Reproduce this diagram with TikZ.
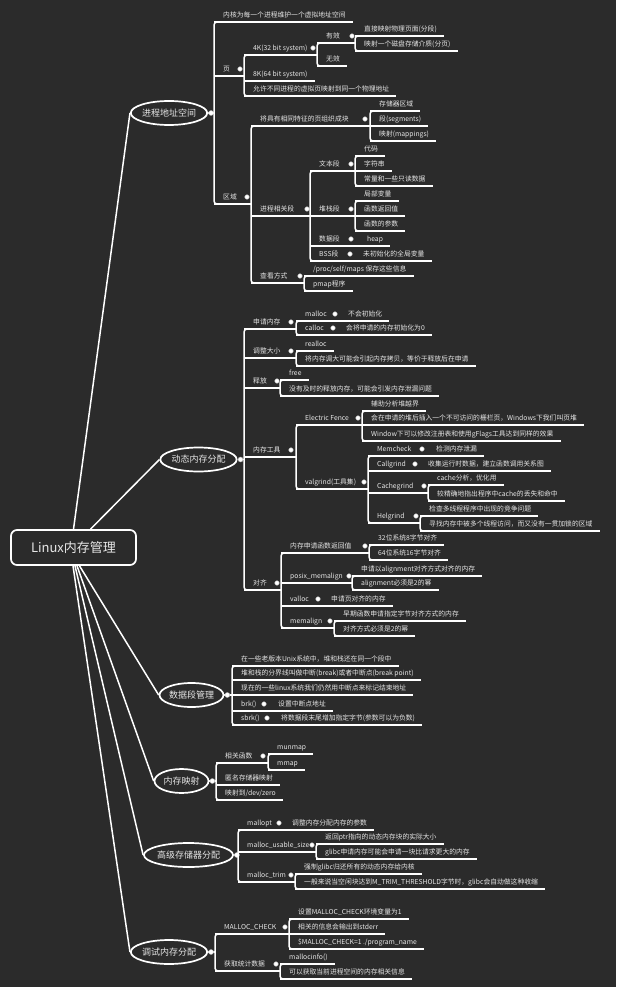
\documentclass[tikz,border=0pt]{standalone}
\usepackage{fontspec}
\setmainfont{Noto Sans CJK SC}
\usetikzlibrary{shapes.geometric}
\definecolor{bg}{HTML}{2B2B2B}
\definecolor{txt}{HTML}{E6E6E6}
\newcommand\mmfs{\fontsize{6.8}{8}\selectfont}
\tikzset{
  ul/.style={draw=white, line width=1.5pt},
  cl/.style={draw=white, line width=1.5pt},
  tx/.style={text=txt, font=\mmfs, inner xsep=0pt, inner ysep=0pt, text height=5.5pt, text depth=4.5pt, anchor=south west},
  dt/.style={circle, fill=white, draw=gray!60, line width=0.4pt, inner sep=0pt, minimum size=4.6pt},
  lone/.style={ellipse, draw=white, line width=1.7pt, text=txt, font=\fontsize{9}{10}\selectfont, inner sep=0pt, minimum height=24pt},
}
\newcommand\mmleaf[4]{\node[tx] (#1) at ({#2+9},#3) {#4};
  \draw[ul] (#2,#3) -- ([xshift=7pt]#1.south east);}
\newcommand\mmpar[6]{\node[tx] (#1) at ({#2+9},#3) {#4};
  \node[dt] (#1d) at (#5,{#3-7}) {};
  \draw[ul] (#2,#3) -- (#6,#3);}
\newcommand\mmin[7]{\node[tx] (#1) at ({#2+9},#3) {#4};
  \node[dt] (#1d) at (#5,{#3-7}) {};
  \node[tx] (#1c) at (#6,#3) {#7};
  \draw[ul] (#2,#3) -- ([xshift=7pt]#1c.south east);}
\newcommand\mmbr[3]{\draw[ul,rounded corners=3pt] ({#1+6},#2) -- (#1,#2) -- (#1,#3) -- ({#1+6},#3);}
\begin{document}
\begin{tikzpicture}[x=1pt,y=-1pt]
\fill[bg] (0,0) rectangle (616,987);
\useasboundingbox (0,0) rectangle (616,987);

% root
\node[draw=white, line width=1.7pt, rounded corners=6pt, minimum width=125pt, minimum height=35pt, font=\fontsize{13}{15}\selectfont, text=txt, inner sep=0pt] (root) at (73.5,547.5) {Linux内存管理};

% level 1
\node[lone, minimum width=72pt] (e1) at (169,113) {进程地址空间};
\node[lone, minimum width=73pt] (e2) at (198.5,459.5) {动态内存分配};
\node[lone, minimum width=64pt] (e3) at (191.5,695) {数据段管理};
\node[lone, minimum width=54pt] (e4) at (181.5,781) {内存映射};
\node[lone, minimum width=83pt] (e5) at (188.5,855) {高级存储器分配};
\node[lone, minimum width=72pt] (e6) at (169,952) {调试内存分配};

\draw[cl] (root.north) -- (e1.west);
\draw[cl] ([xshift=17pt]root.north) -- (e2.west);
\draw[cl] ([xshift=6pt]root.south) -- (e3.west);
\draw[cl] ([xshift=3.5pt]root.south) -- (e4.west);
\draw[cl] ([xshift=1.5pt]root.south) -- (e5.west);
\draw[cl] ([xshift=-0.5pt]root.south) -- (e6.west);

% ===== section 1
\coordinate (k1) at (214,113);
\draw[ul] (e1.east) -- (k1);
\node[dt, minimum size=5pt] (e1d) at ([xshift=3pt]e1.east) {};
\mmbr{214}{22}{204}
\mmleaf{a1}{214}{22}{内核为每一个进程维护一个虚拟地址空间}
\mmpar{a2}{214}{76}{页}{240}{244}
\mmbr{244}{55}{96}
\mmpar{a21}{244}{55}{4K(32 bit system)}{313}{317}
\mmbr{317}{43}{66}
\mmpar{a211}{317}{43}{有效}{352}{355}
\mmbr{355}{36}{51}
\mmleaf{a2111}{355}{36}{直接映射物理页面(分段)}
\mmleaf{a2112}{355}{51}{映射一个磁盘存储介质(分页)}
\mmleaf{a212}{317}{66}{无效}
\mmleaf{a22}{244}{81}{8K(64 bit system)}
\mmleaf{a23}{244}{96}{允许不同进程的虚拟页映射到同一个物理地址}
\mmpar{a3}{214}{204}{区域}{247}{251}
\mmbr{251}{126}{283}
\mmpar{a31}{251}{126}{将具有相同特征的页组织成块}{365}{370}
\mmbr{370}{111}{141}
\mmleaf{a311}{370}{111}{存储器区域}
\mmleaf{a312}{370}{126}{段(segments)}
\mmleaf{a313}{370}{141}{映射(mappings)}
\mmpar{a32}{251}{216}{进程相关段}{307}{310}
\mmbr{310}{171}{261}
\mmpar{a321}{310}{171}{文本段}{351}{355}
\mmbr{355}{156}{186}
\mmleaf{a3211}{355}{156}{代码}
\mmleaf{a3212}{355}{171}{字符串}
\mmleaf{a3213}{355}{186}{常量和一些只读数据}
\mmpar{a322}{310}{216}{堆栈段}{351}{355}
\mmbr{355}{201}{231}
\mmleaf{a3221}{355}{201}{局部变量}
\mmleaf{a3222}{355}{216}{函数返回值}
\mmleaf{a3223}{355}{231}{函数的参数}
\mmin{a323}{310}{246}{数据段}{351}{367}{heap}
\mmin{a324}{310}{261}{BSS段}{350}{363}{未初始化的全局变量}
\mmpar{a33}{251}{283}{查看方式}{300}{304}
\mmbr{304}{276}{291}
\mmleaf{a331}{304}{276}{/proc/self/maps 保存这些信息}
\mmleaf{a332}{304}{291}{pmap程序}

% ===== section 2
\coordinate (k2) at (244,459.5);
\draw[ul] (e2.east) -- (k2);
\node[dt, minimum size=5pt] (e2d) at ([xshift=3pt]e2.east) {};
\mmbr{244}{329}{590}
\mmpar{b1}{244}{329}{申请内存}{291}{296}
\mmbr{296}{321}{335}
\mmin{b11}{296}{321}{malloc}{335}{348}{不会初始化}
\mmin{b12}{296}{335}{calloc}{333}{346}{会将申请的内存初始化为0}
\mmpar{b2}{244}{358}{调整大小}{291}{296}
\mmbr{296}{351}{366}
\mmleaf{b21}{296}{351}{realloc}
\mmleaf{b22}{296}{366}{将内存调大可能会引起内存拷贝，等价于释放后在申请}
\mmpar{b3}{244}{388}{释放}{277}{280}
\mmbr{280}{380}{396}
\mmleaf{b31}{280}{380}{free}
\mmleaf{b32}{280}{396}{没有及时的释放内存，可能会引发内存泄漏问题}
\mmpar{b4}{244}{457}{内存工具}{291}{296}
\mmbr{296}{425}{489}
\mmpar{b41}{296}{425}{Electric Fence}{358}{362}
\mmbr{362}{411}{441}
\mmleaf{b411}{362}{411}{辅助分析堆越界}
\mmleaf{b412}{362}{425}{会在申请的堆后插入一个不可访问的栅栏页，Windows下我们叫页堆}
\mmleaf{b413}{362}{441}{Window下可以修改注册表和使用gFlags工具达到同样的效果}
\mmpar{b42}{296}{489}{valgrind(工具集)}{364}{368}
\mmbr{368}{456}{523}
\mmin{b421}{368}{456}{Memcheck}{422}{436}{检测内存泄漏}
\mmin{b422}{368}{471}{Callgrind}{415}{428}{收集运行时数据，建立函数调用关系图}
\mmpar{b423}{368}{493}{Cachegrind}{424}{428}
\mmbr{428}{485}{501}
\mmleaf{b4231}{428}{485}{cache分析，优化用}
\mmleaf{b4232}{428}{501}{较精确地指出程序中cache的丢失和命中}
\mmpar{b424}{368}{523}{Helgrind}{416}{420}
\mmbr{420}{516}{531}
\mmleaf{b4241}{420}{516}{检查多线程程序中出现的竞争问题}
\mmleaf{b4242}{420}{531}{寻找内存中被多个线程访问，而又没有一贯加锁的区域}
\mmpar{b5}{244}{590}{对齐}{277}{281}
\mmbr{281}{553}{628}
\mmpar{b51}{281}{553}{内存申请函数返回值}{365}{369}
\mmbr{369}{545}{560}
\mmleaf{b511}{369}{545}{32位系统8字节对齐}
\mmleaf{b512}{369}{560}{64位系统16字节对齐}
\mmpar{b52}{281}{583}{posix\_memalign}{349}{352}
\mmbr{352}{576}{590}
\mmleaf{b521}{352}{576}{申请以alignment对齐方式对齐的内存}
\mmleaf{b522}{352}{590}{alignment必须是2的幂}
\mmin{b53}{281}{606}{valloc}{318}{331}{申请页对齐的内存}
\mmpar{b54}{281}{628}{memalign}{330}{334}
\mmbr{334}{621}{636}
\mmleaf{b541}{334}{621}{早期函数申请指定字节对齐方式的内存}
\mmleaf{b542}{334}{636}{对齐方式必须是2的幂}

% ===== section 3
\coordinate (k3) at (232,695);
\draw[ul] (e3.east) -- (k3);
\node[dt, minimum size=5pt] (e3d) at ([xshift=3pt]e3.east) {};
\mmbr{232}{666}{725}
\mmleaf{c1}{232}{666}{在一些老版本Unix系统中，堆和栈还在同一个段中}
\mmleaf{c2}{232}{680}{堆和栈的分界线叫做中断(break)或者中断点(break point)}
\mmleaf{c3}{232}{695}{现在的一些linux系统我们仍然用中断点来标记结束地址}
\mmin{c4}{232}{711}{brk()}{264}{278}{设置中断点地址}
\mmin{c5}{232}{725}{sbrk()}{267}{281}{将数据段末尾增加指定字节(参数可以为负数)}

% ===== section 4
\coordinate (k4) at (216,781);
\draw[ul] (e4.east) -- (k4);
\node[dt, minimum size=5pt] (e4d) at ([xshift=3pt]e4.east) {};
\mmbr{216}{763}{800}
\mmpar{d1}{216}{763}{相关函数}{263}{268}
\mmbr{268}{754}{770}
\mmleaf{d11}{268}{754}{munmap}
\mmleaf{d12}{268}{770}{mmap}
\mmleaf{d2}{216}{785}{匿名存储器映射}
\mmleaf{d3}{216}{800}{映射到/dev/zero}

% ===== section 5
\coordinate (k5) at (238,855);
\draw[ul] (e5.east) -- (k5);
\node[dt, minimum size=5pt] (e5d) at ([xshift=3pt]e5.east) {};
\mmbr{238}{830}{882}
\mmin{g1}{238}{830}{mallopt}{279}{292}{调整内存分配内存的参数}
\mmpar{g2}{238}{852}{malloc\_usable\_size}{312}{316}
\mmbr{316}{844}{859}
\mmleaf{g21}{316}{844}{返回ptr指向的动态内存块的实际大小}
\mmleaf{g22}{316}{859}{glibc申请内存可能会申请一块比请求更大的内存}
\mmpar{g3}{238}{882}{malloc\_trim}{291}{295}
\mmbr{295}{874}{889}
\mmleaf{g31}{295}{874}{强制glibc归还所有的动态内存给内核}
\mmleaf{g32}{295}{889}{一般来说当空闲块达到M\_TRIM\_THRESHOLD字节时，glibc会自动做这种收缩}

% ===== section 6
\coordinate (k6) at (215,952);
\draw[ul] (e6.east) -- (k6);
\node[dt, minimum size=5pt] (e6d) at ([xshift=3pt]e6.east) {};
\mmbr{215}{934}{971}
\mmpar{f1}{215}{934}{MALLOC\_CHECK}{285}{289}
\mmbr{289}{919}{949}
\mmleaf{f11}{289}{919}{设置MALLOC\_CHECK环境变量为1}
\mmleaf{f12}{289}{934}{相关的信息会输出到stderr}
\mmleaf{f13}{289}{949}{\$MALLOC\_CHECK=1 ./program\_name}
\mmpar{f2}{215}{971}{获取统计数据}{276}{280}
\mmbr{280}{964}{979}
\mmleaf{f21}{280}{964}{mallocinfo()}
\mmleaf{f22}{280}{979}{可以获取当前进程空间的内存相关信息}
\end{tikzpicture}
\end{document}
